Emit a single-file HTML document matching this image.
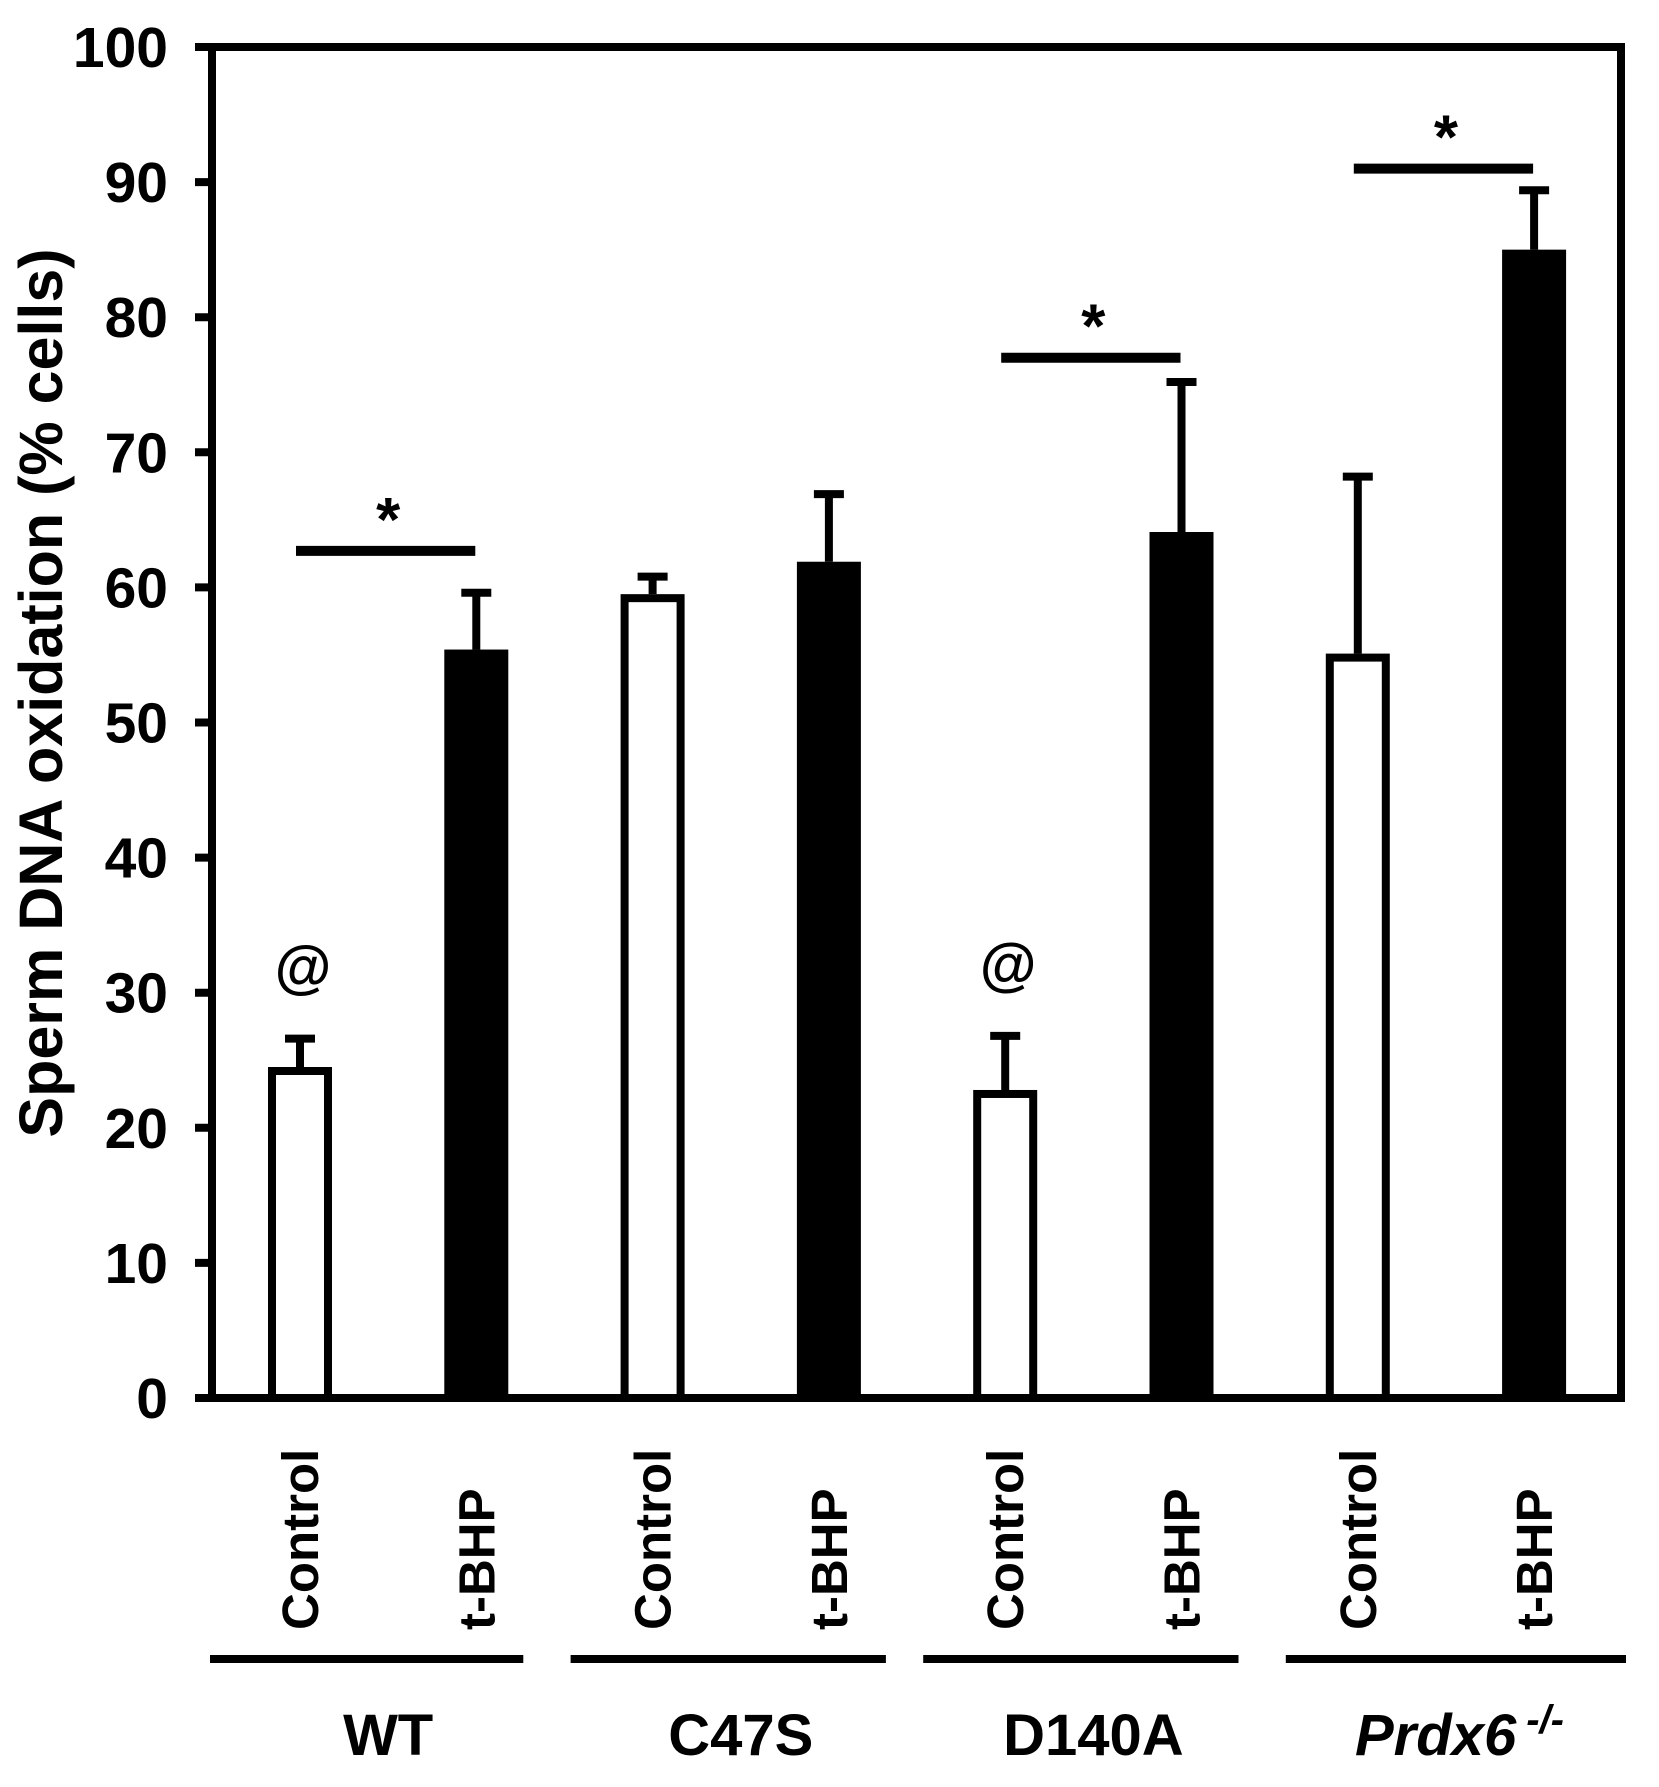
<!DOCTYPE html>
<html><head><meta charset="utf-8"><style>
html,body{margin:0;padding:0;background:#fff;}
svg text{font-family:"Liberation Sans",Arial,sans-serif;font-weight:bold;fill:#000;}
</style></head>
<body>
<svg id="chart" width="1659" height="1782" viewBox="0 0 1659 1782" xmlns="http://www.w3.org/2000/svg">
<g id="axes"></g><g id="bars"></g><g id="annot"></g>
</svg>
<script>
const groups = ["WT","C47S","D140A","Prdx6"];
const conditions = ["Control","t-BHP","Control","t-BHP","Control","t-BHP","Control","t-BHP"];
const values = [24.5, 55.4, 59.5, 61.9, 22.8, 64.1, 55.1, 85.0];
const errors = [2.1, 4.2, 1.3, 5.0, 4.0, 11.1, 13.1, 4.4];
const yTicks = [0,10,20,30,40,50,60,70,80,90,100];
const sigPairs = [[0,1,62.7],[4,5,77.0],[6,7,91.0]];
const atMarks = [0,4];

const NS="http://www.w3.org/2000/svg";
const X0=212, X1=1621, Y0=1398, Y1=47;
function yScale(v){return Y0-(v/100)*(Y0-Y1);}
function xScale(i){return 300+i*176.3;}
const BW=64;
function mk(tag,attrs,parent,text){const e=document.createElementNS(NS,tag);for(const k in attrs)e.setAttribute(k,attrs[k]);if(text!==undefined)e.textContent=text;parent.appendChild(e);return e;}
const axes=document.getElementById('axes'),bars=document.getElementById('bars'),annot=document.getElementById('annot');

values.forEach((v,i)=>{
  const cx=xScale(i), ctrl=i%2===0;
  const top=yScale(v), ey=yScale(v+errors[i]);
  const st=mk('line',{x1:cx,x2:cx,y1:top,y2:ey,stroke:'#000','stroke-width':8},bars);
  
  
  const cap=mk('line',{x1:cx-15,x2:cx+15,y1:ey,y2:ey,stroke:'#000','stroke-width':8},bars);
  
  
  let r;
  if(ctrl){r=mk('rect',{x:cx-BW/2+4,y:top+4,width:BW-8,height:Y0-top-4,fill:'#fff',stroke:'#000','stroke-width':8},bars);}
  else{r=mk('rect',{x:cx-BW/2,y:top,width:BW,height:Y0-top,fill:'#000'},bars);}
  
  
  const t=mk('text',{transform:`translate(${cx+18},1630) rotate(-90)`,'font-size':51,'text-anchor':'start'},axes,conditions[i]);
  
  
});

const fr=mk('path',{d:`M${X0},${Y1} H${X1} V${Y0} H${X0} Z`,fill:'none',stroke:'#000','stroke-width':8},axes);


yTicks.forEach(v=>{
  const y=yScale(v);
  const tk=mk('line',{x1:195,x2:X0,y1:y,y2:y,stroke:'#000','stroke-width':8},axes);
  
  
  const tl=mk('text',{x:168,y:y+20,'font-size':57,'text-anchor':'end'},axes,String(v));
  
  
});
const yt=mk('text',{transform:'translate(62,693) rotate(-90)','font-size':61,'text-anchor':'middle'},axes,'Sperm DNA oxidation (% cells)');



groups.forEach((g,k)=>{
  const a=k===0?210:(k===3?xScale(6)-72:xScale(2*k)-82);
  const b=k===0?xScale(1)+47:(k===3?1626:xScale(2*k+1)+57);
  const l=mk('line',{x1:a,x2:b,y1:1659,y2:1659,stroke:'#000','stroke-width':8},axes);
  
  
  const cx=(xScale(2*k)+xScale(2*k+1))/2;
  let t;
  if(k===3){
    t=mk('text',{x:1355,y:1755,'font-size':58,'text-anchor':'start'},axes);
    mk('tspan',{'font-style':'italic'},t,'Prdx6');
    mk('tspan',{'font-style':'italic','font-size':40,dy:-22,dx:10},t,'-/-');
  } else {
    t=mk('text',{x:cx,y:1755,'font-size':58,'text-anchor':'middle'},axes,g);
  }
  
  
});

sigPairs.forEach(p=>{
  const y=yScale(p[2]);
  const l=mk('line',{x1:xScale(p[0])-4,x2:xScale(p[1])-1,y1:y,y2:y,stroke:'#000','stroke-width':10},annot);
  
  
  const s=mk('text',{x:(xScale(p[0])+xScale(p[1]))/2,y:y-10,'font-size':62,'text-anchor':'middle'},annot,'*');
  
  
});
atMarks.forEach(i=>{
  const s=mk('text',{x:xScale(i)+3,y:yScale(values[i]+errors[i])-52,'font-size':58,'text-anchor':'middle'},annot,'@');
  
  
});
</script>
</body></html>
